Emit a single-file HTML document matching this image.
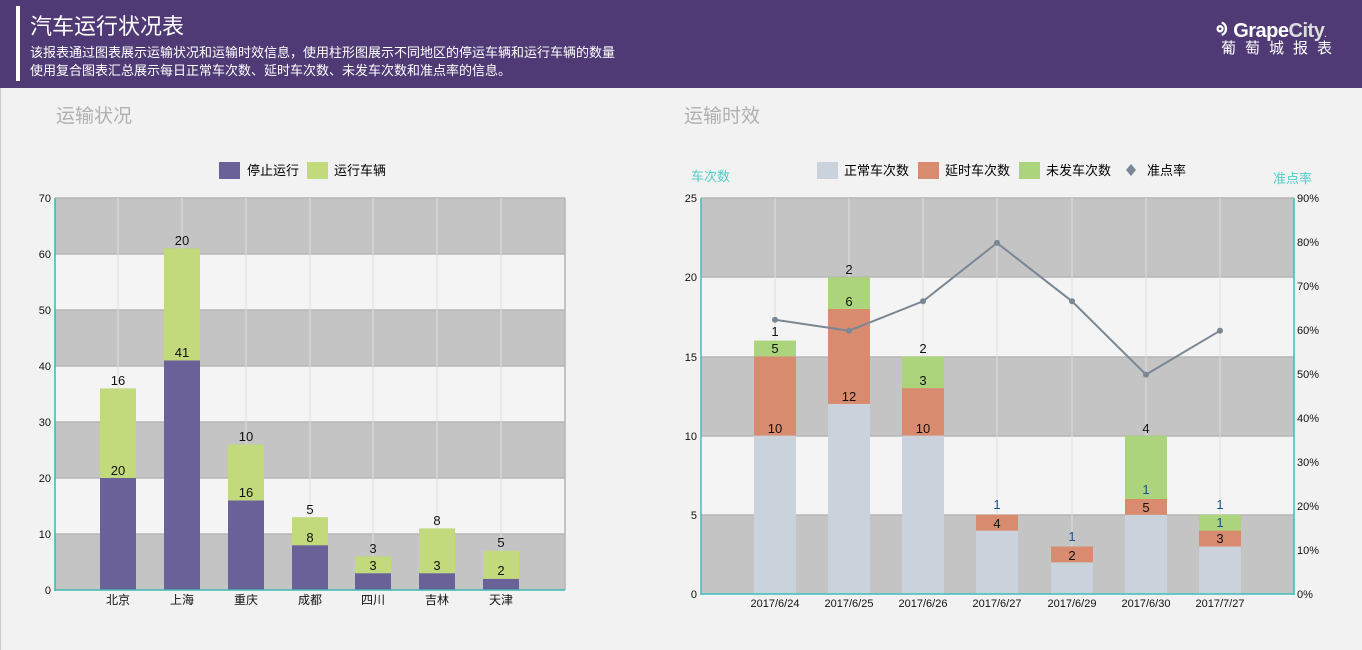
<!DOCTYPE html>
<html><head><meta charset="utf-8"><style>
body{margin:0;width:1362px;height:650px;background:#f2f2f2;font-family:"Liberation Sans","Noto Sans CJK SC",sans-serif;overflow:hidden;position:relative}
.hd{position:absolute;left:0;top:0;width:1362px;height:88px;background:#4f3a75}
.bar{position:absolute;left:16px;top:6px;width:4px;height:75px;background:#fff}
.t{position:absolute;left:30px;top:9px;color:#fff;font-size:22px}
.d{position:absolute;left:30px;top:44px;color:#fff;font-size:13px;line-height:18px}
svg{position:absolute;left:0;top:0}
</style></head><body>
<div class="hd"><div class="bar"></div><div class="t">汽车运行状况表</div>
<div class="d">该报表通过图表展示运输状况和运输时效信息，使用柱形图展示不同地区的停运车辆和运行车辆的数量<br>使用复合图表汇总展示每日正常车次数、延时车次数、未发车次数和准点率的信息。</div>
<div style="position:absolute;left:1216px;top:8px;color:#fff;font-size:20px;font-weight:bold;letter-spacing:-0.5px">ᢀ Grape<span style="color:#ddd">City</span><span style="font-size:8px">.</span></div>
<div style="position:absolute;left:1221px;top:37px;color:#fff;font-size:15px;letter-spacing:9px">葡萄城报表</div>
</div>
<div style="position:absolute;left:0;top:88px;width:1px;height:562px;background:#ccc"></div>
<svg width="1362" height="650" font-family="Liberation Sans, Noto Sans CJK SC, sans-serif">
<text x="56" y="122" font-size="19" fill="#b0b0b0">运输状况</text>
<text x="684" y="122" font-size="19" fill="#b0b0b0">运输时效</text>
<rect x="219" y="162" width="21" height="17" fill="#6a6198"/><text x="247" y="175" font-size="13">停止运行</text>
<rect x="307" y="162" width="21" height="17" fill="#c2d97c"/><text x="334" y="175" font-size="13">运行车辆</text>
<rect x="55" y="198" width="510" height="56" fill="#c4c4c4"/>
<rect x="55" y="254" width="510" height="56" fill="#f4f4f4"/>
<rect x="55" y="310" width="510" height="56" fill="#c4c4c4"/>
<rect x="55" y="366" width="510" height="56" fill="#f4f4f4"/>
<rect x="55" y="422" width="510" height="56" fill="#c4c4c4"/>
<rect x="55" y="478" width="510" height="56" fill="#f4f4f4"/>
<rect x="55" y="534" width="510" height="56" fill="#c4c4c4"/>
<g stroke="#b5b5b5" stroke-width="1.5"><line x1="55" y1="198" x2="565" y2="198"/><line x1="55" y1="254" x2="565" y2="254"/><line x1="55" y1="310" x2="565" y2="310"/><line x1="55" y1="366" x2="565" y2="366"/><line x1="55" y1="422" x2="565" y2="422"/><line x1="55" y1="478" x2="565" y2="478"/><line x1="55" y1="534" x2="565" y2="534"/><line x1="565" y1="198" x2="565" y2="590"/></g>
<g stroke="#dedede" stroke-width="1"><line x1="118" y1="198" x2="118" y2="590"/><line x1="182" y1="198" x2="182" y2="590"/><line x1="246" y1="198" x2="246" y2="590"/><line x1="310" y1="198" x2="310" y2="590"/><line x1="373" y1="198" x2="373" y2="590"/><line x1="437" y1="198" x2="437" y2="590"/><line x1="501" y1="198" x2="501" y2="590"/></g>
<g fill="#6a6198"><rect x="100" y="478" width="36" height="112"/><rect x="164" y="360.4" width="36" height="229.6"/><rect x="228" y="500.4" width="36" height="89.6"/><rect x="292" y="545.2" width="36" height="44.8"/><rect x="355" y="573.2" width="36" height="16.8"/><rect x="419" y="573.2" width="36" height="16.8"/><rect x="483" y="578.8" width="36" height="11.2"/></g>
<g fill="#c2d97c"><rect x="100" y="388.4" width="36" height="89.6"/><rect x="164" y="248.4" width="36" height="112"/><rect x="228" y="444.4" width="36" height="56"/><rect x="292" y="517.2" width="36" height="28"/><rect x="355" y="556.4" width="36" height="16.8"/><rect x="419" y="528.4" width="36" height="44.8"/><rect x="483" y="550.8" width="36" height="28"/></g>
<g font-size="13" text-anchor="middle" fill="#111">
<text x="118" y="475">20</text><text x="118" y="385">16</text>
<text x="182" y="357">41</text><text x="182" y="245">20</text>
<text x="246" y="497">16</text><text x="246" y="441">10</text>
<text x="310" y="542">8</text><text x="310" y="514">5</text>
<text x="373" y="570">3</text><text x="373" y="553">3</text>
<text x="437" y="570">3</text><text x="437" y="525">8</text>
<text x="501" y="575">2</text><text x="501" y="547">5</text>
</g>
<line x1="55" y1="198" x2="55" y2="591" stroke="#3cb8b0" stroke-width="1.5"/><line x1="55" y1="590" x2="565" y2="590" stroke="#3cb8b0" stroke-width="1.5"/>
<g font-size="11" text-anchor="end" fill="#111"><text x="51" y="202">70</text><text x="51" y="258">60</text><text x="51" y="314">50</text><text x="51" y="370">40</text><text x="51" y="426">30</text><text x="51" y="482">20</text><text x="51" y="538">10</text><text x="51" y="594">0</text></g>
<g font-size="12" text-anchor="middle" fill="#111"><text x="118" y="604">北京</text><text x="182" y="604">上海</text><text x="246" y="604">重庆</text><text x="310" y="604">成都</text><text x="373" y="604">四川</text><text x="437" y="604">吉林</text><text x="501" y="604">天津</text></g>

<text x="691" y="181" font-size="13" fill="#4fcdc5">车次数</text>
<text x="1273" y="183" font-size="13" fill="#4fcdc5">准点率</text>
<rect x="817" y="162" width="21" height="17" fill="#cad2db"/><text x="844" y="175" font-size="13">正常车次数</text>
<rect x="918" y="162" width="21" height="17" fill="#d98b6f"/><text x="945" y="175" font-size="13">延时车次数</text>
<rect x="1019" y="162" width="21" height="17" fill="#acd47c"/><text x="1046" y="175" font-size="13">未发车次数</text>
<path d="M1131 164 L1136 170 L1131 176 L1126 170Z" fill="#7a8794"/><text x="1147" y="175" font-size="13">准点率</text>
<rect x="701" y="198" width="593" height="79" fill="#c4c4c4"/>
<rect x="701" y="277" width="593" height="80" fill="#f4f4f4"/>
<rect x="701" y="357" width="593" height="79" fill="#c4c4c4"/>
<rect x="701" y="436" width="593" height="79" fill="#f4f4f4"/>
<rect x="701" y="515" width="593" height="79" fill="#c4c4c4"/>
<g stroke="#b5b5b5" stroke-width="1.5"><line x1="701" y1="198" x2="1294" y2="198"/><line x1="701" y1="277" x2="1294" y2="277"/><line x1="701" y1="357" x2="1294" y2="357"/><line x1="701" y1="436" x2="1294" y2="436"/><line x1="701" y1="515" x2="1294" y2="515"/></g>
<g stroke="#dedede"><line x1="775" y1="198" x2="775" y2="594"/><line x1="849" y1="198" x2="849" y2="594"/><line x1="923" y1="198" x2="923" y2="594"/><line x1="997" y1="198" x2="997" y2="594"/><line x1="1072" y1="198" x2="1072" y2="594"/><line x1="1146" y1="198" x2="1146" y2="594"/><line x1="1220" y1="198" x2="1220" y2="594"/></g>
<g fill="#cad2db"><rect x="754" y="435.6" width="42" height="158.4"/><rect x="828" y="403.9" width="42" height="190.1"/><rect x="902" y="435.6" width="42" height="158.4"/><rect x="976" y="530.6" width="42" height="63.4"/><rect x="1051" y="562.3" width="42" height="31.7"/><rect x="1125" y="514.8" width="42" height="79.2"/><rect x="1199" y="546.5" width="42" height="47.5"/></g>
<g fill="#d98b6f"><rect x="754" y="356.4" width="42" height="79.2"/><rect x="828" y="308.9" width="42" height="95"/><rect x="902" y="388.1" width="42" height="47.5"/><rect x="976" y="514.8" width="42" height="15.8"/><rect x="1051" y="546.5" width="42" height="15.8"/><rect x="1125" y="499" width="42" height="15.8"/><rect x="1199" y="530.6" width="42" height="15.9"/></g>
<g fill="#acd47c"><rect x="754" y="340.6" width="42" height="15.8"/><rect x="828" y="277.2" width="42" height="31.7"/><rect x="902" y="356.4" width="42" height="31.7"/><rect x="1125" y="435.6" width="42" height="63.4"/><rect x="1199" y="514.8" width="42" height="15.8"/></g>
<polyline points="775,319.7 849,330.7 923,301.3 997,242.9 1072,301.3 1146,374.6 1220,330.7" fill="none" stroke="#7a8794" stroke-width="2"/>
<g fill="#7a8794"><circle cx="775" cy="319.7" r="3"/><circle cx="849" cy="330.7" r="3"/><circle cx="923" cy="301.3" r="3"/><circle cx="997" cy="242.9" r="3"/><circle cx="1072" cy="301.3" r="3"/><circle cx="1146" cy="374.6" r="3"/><circle cx="1220" cy="330.7" r="3"/></g>
<g font-size="13" text-anchor="middle" fill="#111">
<text x="775" y="433">10</text><text x="775" y="353">5</text><text x="775" y="336">1</text>
<text x="849" y="401">12</text><text x="849" y="306">6</text><text x="849" y="274">2</text>
<text x="923" y="433">10</text><text x="923" y="385">3</text><text x="923" y="353">2</text>
<text x="997" y="528">4</text>
<text x="1072" y="560">2</text>
<text x="1146" y="512">5</text><text x="1146" y="433">4</text>
<text x="1220" y="543">3</text>
</g>
<g font-size="13" text-anchor="middle" fill="#1a4f8a"><text x="997" y="509">1</text><text x="1072" y="541">1</text><text x="1146" y="494">1</text><text x="1220" y="527">1</text><text x="1220" y="509">1</text></g>
<line x1="701" y1="198" x2="701" y2="595" stroke="#3cc0b8" stroke-width="1.5"/><line x1="1294" y1="198" x2="1294" y2="595" stroke="#3cc0b8" stroke-width="1.5"/><line x1="701" y1="594" x2="1294" y2="594" stroke="#3cc0b8" stroke-width="1.5"/>
<g font-size="11" text-anchor="end" fill="#111"><text x="697" y="202">25</text><text x="697" y="281">20</text><text x="697" y="361">15</text><text x="697" y="440">10</text><text x="697" y="519">5</text><text x="697" y="598">0</text></g>
<g font-size="11" fill="#111"><text x="1297" y="202">90%</text><text x="1297" y="246">80%</text><text x="1297" y="290">70%</text><text x="1297" y="334">60%</text><text x="1297" y="378">50%</text><text x="1297" y="422">40%</text><text x="1297" y="466">30%</text><text x="1297" y="510">20%</text><text x="1297" y="554">10%</text><text x="1297" y="598">0%</text></g>
<g font-size="11" text-anchor="middle" fill="#111"><text x="775" y="607">2017/6/24</text><text x="849" y="607">2017/6/25</text><text x="923" y="607">2017/6/26</text><text x="997" y="607">2017/6/27</text><text x="1072" y="607">2017/6/29</text><text x="1146" y="607">2017/6/30</text><text x="1220" y="607">2017/7/27</text></g>
</svg>
</body></html>
